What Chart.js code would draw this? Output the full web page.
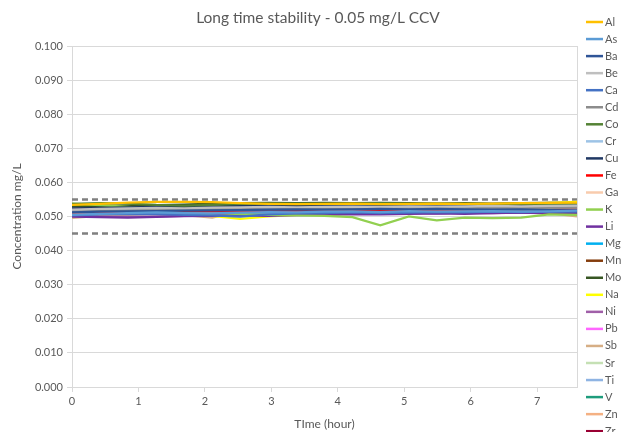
<!DOCTYPE html>
<html><head><meta charset="utf-8">
<script src="https://cdn.jsdelivr.net/npm/chart.js@4.4.1/dist/chart.umd.min.js"></script>
<style>html,body{margin:0;padding:0;background:#fff;}#wrap{width:634px;height:432px;position:relative;}</style>
</head><body><div id="wrap"><canvas id="c" width="634" height="432"></canvas></div>
<script>
const TITLE = "Long time stability - 0.05 mg/L CCV";
const TIMES = [0,0.42,0.84,1.27,1.69,2.11,2.53,2.96,3.38,3.8,4.22,4.64,5.07,5.49,5.91,6.33,6.76,7.18,7.6];
const X_TICKS = [0,1,2,3,4,5,6,7];
const UPPER_LIMIT = 0.055;
const LOWER_LIMIT = 0.045;
const ELEMENTS = ["Al","As","Ba","Be","Ca","Cd","Co","Cr","Cu","Fe","Ga","K","Li","Mg","Mn","Mo","Na","Ni","Pb","Sb","Sr","Ti","V","Zn","Zr"];
const Al = [0.0534,0.0537,0.0541,0.0543,0.0543,0.0542,0.0539,0.0537,0.0536,0.0537,0.0538,0.0536,0.0537,0.0538,0.0537,0.0538,0.0539,0.0540,0.0541];
const As = [0.0505,0.0508,0.0510,0.0512,0.0510,0.0509,0.0511,0.0513,0.0512,0.0514,0.0515,0.0513,0.0516,0.0514,0.0515,0.0516,0.0514,0.0515,0.0517];
const Ba = [0.0512,0.0514,0.0515,0.0516,0.0517,0.0518,0.0519,0.0520,0.0521,0.0520,0.0521,0.0522,0.0521,0.0522,0.0521,0.0520,0.0521,0.0519,0.0518];
const Be = [0.0520,0.0522,0.0524,0.0525,0.0524,0.0526,0.0527,0.0528,0.0527,0.0528,0.0529,0.0528,0.0530,0.0529,0.0530,0.0531,0.0530,0.0531,0.0532];
const Ca = [0.0503,0.0506,0.0508,0.0507,0.0505,0.0503,0.0500,0.0506,0.0509,0.0510,0.0512,0.0510,0.0511,0.0513,0.0512,0.0514,0.0513,0.0515,0.0514];
const Cd = [0.0515,0.0516,0.0518,0.0519,0.0520,0.0521,0.0522,0.0521,0.0522,0.0523,0.0524,0.0523,0.0524,0.0525,0.0524,0.0525,0.0526,0.0525,0.0526];
const Co = [0.0537,0.0539,0.0538,0.0534,0.0532,0.0534,0.0537,0.0538,0.0538,0.0537,0.0538,0.0539,0.0537,0.0538,0.0537,0.0536,0.0538,0.0537,0.0538];
const Cr = [0.0518,0.0520,0.0521,0.0522,0.0521,0.0523,0.0524,0.0523,0.0524,0.0525,0.0524,0.0526,0.0525,0.0526,0.0527,0.0526,0.0527,0.0528,0.0527];
const Cu = [0.0524,0.0525,0.0527,0.0528,0.0529,0.0530,0.0531,0.0532,0.0531,0.0532,0.0533,0.0532,0.0533,0.0534,0.0533,0.0534,0.0535,0.0534,0.0535];
const Fe = [0.0512,0.0513,0.0512,0.0514,0.0515,0.0516,0.0515,0.0517,0.0518,0.0517,0.0519,0.0520,0.0519,0.0520,0.0521,0.0520,0.0522,0.0521,0.0522];
const Ga = [0.0508,0.0510,0.0512,0.0511,0.0513,0.0512,0.0514,0.0513,0.0515,0.0514,0.0516,0.0515,0.0517,0.0516,0.0515,0.0517,0.0516,0.0518,0.0517];
const K  = [0.0538,0.0533,0.0528,0.0522,0.0516,0.0511,0.0507,0.0505,0.0503,0.0502,0.0498,0.0474,0.0500,0.0489,0.0497,0.0495,0.0497,0.0506,0.0505];
const Li = [0.0500,0.0498,0.0497,0.0499,0.0501,0.0502,0.0503,0.0502,0.0504,0.0505,0.0507,0.0506,0.0508,0.0509,0.0508,0.0510,0.0511,0.0509,0.0510];
const Mg = [0.0509,0.0511,0.0512,0.0510,0.0509,0.0511,0.0512,0.0513,0.0512,0.0514,0.0513,0.0515,0.0514,0.0516,0.0515,0.0517,0.0516,0.0515,0.0516];
const Mn = [0.0522,0.0523,0.0522,0.0524,0.0525,0.0524,0.0526,0.0527,0.0526,0.0528,0.0527,0.0528,0.0529,0.0528,0.0529,0.0530,0.0529,0.0530,0.0531];
const Mo = [0.0530,0.0531,0.0532,0.0533,0.0535,0.0538,0.0539,0.0540,0.0539,0.0540,0.0539,0.0540,0.0539,0.0538,0.0539,0.0538,0.0539,0.0540,0.0539];
const Na = [0.0510,0.0511,0.0512,0.0510,0.0508,0.0502,0.0493,0.0500,0.0505,0.0506,0.0520,0.0525,0.0528,0.0530,0.0532,0.0534,0.0536,0.0540,0.0543];
const Ni = [0.0502,0.0500,0.0499,0.0500,0.0502,0.0504,0.0505,0.0506,0.0507,0.0506,0.0508,0.0509,0.0510,0.0509,0.0511,0.0510,0.0512,0.0511,0.0512];
const Pb = [0.0507,0.0509,0.0511,0.0513,0.0514,0.0516,0.0518,0.0516,0.0515,0.0514,0.0508,0.0515,0.0518,0.0520,0.0521,0.0522,0.0523,0.0521,0.0520];
const Sb = [0.0496,0.0502,0.0505,0.0507,0.0504,0.0497,0.0515,0.0508,0.0506,0.0507,0.0509,0.0510,0.0509,0.0511,0.0510,0.0512,0.0511,0.0510,0.0500];
const Sr = [0.0516,0.0517,0.0519,0.0520,0.0521,0.0520,0.0522,0.0523,0.0522,0.0524,0.0523,0.0525,0.0524,0.0525,0.0526,0.0525,0.0526,0.0527,0.0526];
const Ti = [0.0510,0.0512,0.0513,0.0514,0.0513,0.0515,0.0516,0.0515,0.0517,0.0516,0.0518,0.0517,0.0518,0.0519,0.0518,0.0520,0.0519,0.0520,0.0521];
const V  = [0.0514,0.0515,0.0517,0.0518,0.0519,0.0520,0.0521,0.0522,0.0523,0.0522,0.0524,0.0525,0.0524,0.0526,0.0525,0.0526,0.0527,0.0526,0.0527];
const Zn = [0.0511,0.0513,0.0515,0.0514,0.0516,0.0517,0.0516,0.0518,0.0519,0.0518,0.0520,0.0521,0.0520,0.0522,0.0521,0.0522,0.0523,0.0522,0.0523];
const Zr = [0.0514,0.0516,0.0518,0.0519,0.0521,0.0523,0.0525,0.0527,0.0528,0.0529,0.0530,0.0531,0.0532,0.0531,0.0532,0.0533,0.0532,0.0533,0.0534];
const SERIES = [Al,As,Ba,Be,Ca,Cd,Co,Cr,Cu,Fe,Ga,K,Li,Mg,Mn,Mo,Na,Ni,Pb,Sb,Sr,Ti,V,Zn,Zr];
const COLORS = ["#FFC000","#5B9BD5","#2F5597","#BFBFBF","#4472C4","#8C8C8C","#548235","#9DC3E6","#203864","#FF0000","#F8CBAD","#92D050","#7030A0","#00B0F0","#843C0C","#375623","#FFFF00","#A05FA8","#FF66FF","#D6AE85","#C5E0B4","#8FB4E3","#1E9C7C","#F4B183","#990033"];

const TXT = "#595959";
const FONT = "Lato, 'Open Sans', sans-serif";

const datasets = ELEMENTS.map((el, i) => ({
  label: el,
  data: TIMES.map((t, j) => ({x: t, y: SERIES[i][j]})),
  borderColor: COLORS[i], backgroundColor: COLORS[i],
  borderWidth: 2.25, pointRadius: 0, tension: 0, fill: false
}));
const limitDs = (v) => ({
  label: "limit", data: [{x: TIMES[0], y: v}, {x: TIMES[TIMES.length-1], y: v}],
  borderColor: "#808080", borderWidth: 2.5, borderDash: [6, 4], pointRadius: 0, fill: false
});
datasets.push(limitDs(UPPER_LIMIT));
datasets.push(limitDs(LOWER_LIMIT));

const decorPlugin = {
  id: "decor",
  afterDraw(chart) {
    const ctx = chart.ctx;
    ctx.save();
    const a = chart.chartArea;
    ctx.strokeStyle = "#D9D9D9"; ctx.lineWidth = 1;
    ctx.beginPath(); ctx.moveTo(Math.round(a.right) + 0.5, a.top); ctx.lineTo(Math.round(a.right) + 0.5, a.bottom); ctx.stroke();
    // title
    ctx.fillStyle = TXT; ctx.textAlign = "center"; ctx.textBaseline = "middle";
    ctx.font = "15.5px " + FONT;
    ctx.fillText(TITLE, 318, 18);
    // legend
    ctx.textAlign = "left";
    ctx.font = "11px " + FONT;
    ELEMENTS.forEach((el, i) => {
      const y = 22 + i * 17.05;
      ctx.strokeStyle = COLORS[i]; ctx.lineWidth = 2.5;
      ctx.beginPath(); ctx.moveTo(586, y); ctx.lineTo(603, y); ctx.stroke();
      ctx.fillText(el, 605, y);
    });
    ctx.restore();
  }
};

new Chart(document.getElementById("c"), {
  type: "line",
  data: { datasets },
  options: {
    responsive: false, animation: false,
    layout: { padding: { left: 0, right: 57, top: 46, bottom: 0 } },
    plugins: { legend: { display: false }, tooltip: { enabled: false }, title: { display: false } },
    scales: {
      x: {
        type: "linear", min: 0, max: 7.6,
        afterBuildTicks: (s) => { s.ticks = X_TICKS.map(v => ({value: v})); },
        afterFit: (s) => { s.height = 45; },
        ticks: { color: TXT, font: { family: FONT, size: 11 }, padding: 3, maxRotation: 0, callback: (v) => v },
        grid: { drawOnChartArea: false, color: "#D9D9D9", tickLength: 5 },
        border: { color: "#D9D9D9" },
        title: { display: true, text: "TIme (hour)", color: TXT, font: { family: FONT, size: 12 }, padding: { top: 2, bottom: 1 } }
      },
      y: {
        min: 0, max: 0.1,
        afterFit: (s) => { s.width = 72; },
        ticks: { stepSize: 0.01, color: TXT, font: { family: FONT, size: 11 }, padding: 4, callback: (v) => v.toFixed(3) },
        grid: { color: "#D9D9D9", tickLength: 5 },
        border: { color: "#D9D9D9" },
        title: { display: true, text: "Concentration mg/L", color: TXT, font: { family: FONT, size: 12 }, padding: { top: 10, bottom: 0 } }
      }
    }
  },
  plugins: [decorPlugin]
});
</script></body></html>
